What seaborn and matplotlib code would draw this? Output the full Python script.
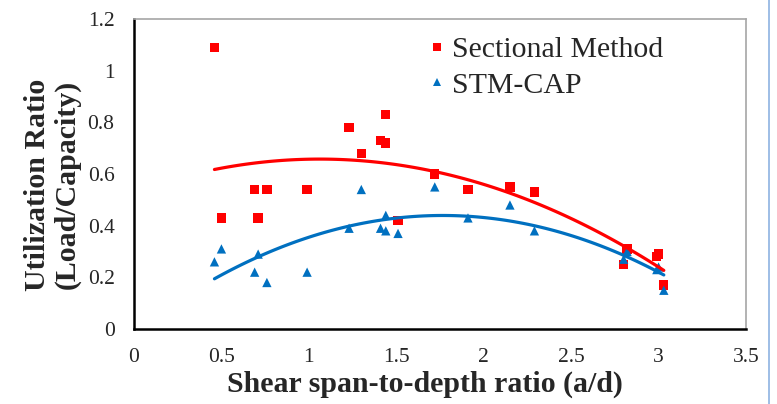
import numpy as np
import pandas as pd
import seaborn as sns
import matplotlib.pyplot as plt
from matplotlib.lines import Line2D

## Data
ad_ratio = [0.46, 0.50, 0.69, 0.71, 0.76, 0.99, 1.23, 1.30, 1.41, 1.44, 1.44,
            1.51, 1.72, 1.91, 2.15, 2.29, 2.80, 2.82, 2.99, 3.00, 3.03]
sectional = [1.09, 0.43, 0.54, 0.43, 0.54, 0.54, 0.78, 0.68, 0.73, 0.83, 0.72,
             0.42, 0.60, 0.54, 0.55, 0.53, 0.25, 0.31, 0.28, 0.29, 0.17]
stm_cap = [0.26, 0.31, 0.22, 0.29, 0.18, 0.22, 0.39, 0.54, 0.39, 0.44, 0.38,
           0.37, 0.55, 0.43, 0.48, 0.38, 0.27, 0.30, 0.23, 0.24, 0.15]
methods = ['Sectional Method', 'STM-CAP']
x_ticks = [0, 0.5, 1, 1.5, 2, 2.5, 3, 3.5]
y_ticks = [0, 0.2, 0.4, 0.6, 0.8, 1, 1.2]

df = pd.DataFrame({'ad': ad_ratio, 'Sectional Method': sectional, 'STM-CAP': stm_cap})
df = df.melt(id_vars='ad', var_name='method', value_name='ur')

## Style
sns.set_style('white')
plt.rcParams['font.family'] = ['Liberation Serif', 'DejaVu Serif']
palette = {'Sectional Method': '#FF0000', 'STM-CAP': '#0070C0'}
markers = {'Sectional Method': 's', 'STM-CAP': '^'}

fig = plt.figure(figsize=(7.77, 4.04), dpi=100)
ax = fig.add_axes([134 / 777, 75 / 404, 612 / 777, 310 / 404])

# scatter points
sns.scatterplot(data=df, x='ad', y='ur', hue='method', style='method',
                palette=palette, markers=markers, s=45, linewidth=0, ax=ax)

# 2nd order polynomial trendlines (like Excel)
for m in methods:
    sns.regplot(data=df[df.method == m], x='ad', y='ur', order=2, ci=None,
                scatter=False, color=palette[m], line_kws={'lw': 2.3}, ax=ax)

ax.set_xlim(0, 3.5)
ax.set_ylim(0, 1.2)
ax.set_xticks(x_ticks)
ax.set_xticklabels([f'{t:g}' for t in x_ticks])
ax.set_yticks(y_ticks)
ax.set_yticklabels([f'{t:g}' for t in y_ticks])
ax.tick_params(axis='both', length=0, labelsize=15.5)
ax.tick_params(axis='x', pad=14)
ax.tick_params(axis='y', pad=14)

ax.set_xlabel('Shear span-to-depth ratio (a/d)', fontsize=21.5, fontweight='bold')
ax.set_ylabel('Utilization Ratio\n(Load/Capacity)', fontsize=21.5, fontweight='bold',
              linespacing=1.1)
ax.xaxis.set_label_coords(0.475, -0.135)
ax.yaxis.set_label_coords(-0.087, 0.465)

for side in ['left', 'bottom']:
    ax.spines[side].set_color('black')
    ax.spines[side].set_linewidth(1.8)
for side in ['top', 'right']:
    ax.spines[side].set_color('#A6A6A6')
    ax.spines[side].set_linewidth(1.2)

# legend (markers only)
handles, labels = ax.get_legend_handles_labels()
ax.legend(handles[:2], labels[:2], loc='upper left', bbox_to_anchor=(0.485, 0.945),
          frameon=False, fontsize=21.5, handletextpad=0.3, handlelength=0.4,
          labelspacing=0.3, markerscale=0.85, borderaxespad=0, borderpad=0)

# blue border line at the right edge of the screenshot
fig.add_artist(Line2D([769 / 777, 769 / 777], [0, 1], color='#8DB3E2', lw=1.2))

fig.savefig('out.png', dpi=100)
